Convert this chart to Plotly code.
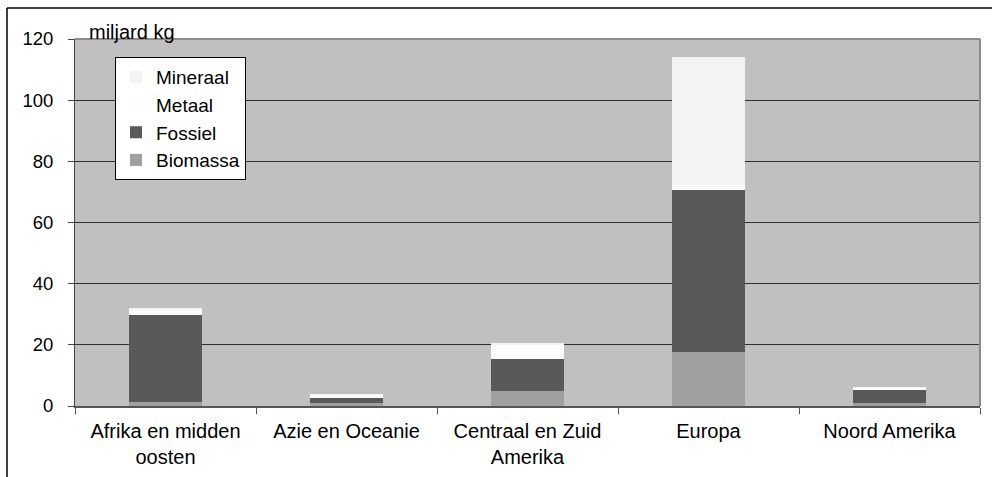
import plotly.graph_objects as go

categories = ["Afrika en midden<br>oosten", "Azie en Oceanie", "Centraal en Zuid<br>Amerika", "Europa", "Noord Amerika"]
biomassa = [1.2, 0.9, 5.0, 17.7, 1.0]
fossiel = [28.4, 1.6, 10.5, 52.9, 4.2]
metaal = [1.8, 1.2, 4.6, 1.5, 0.8]
mineraal = [0.4, 0.2, 0.2, 42.0, 0.1]
y_ticks = [0, 20, 40, 60, 80, 100, 120]

series = [
    ("Biomassa", biomassa, "#A0A0A0", 4),
    ("Fossiel", fossiel, "#595959", 3),
    ("Metaal", metaal, "#FCFCFC", 2),
    ("Mineraal", mineraal, "#F3F3F3", 1),
]

FONT = "Liberation Sans, Arial, sans-serif"

fig = go.Figure()
for name, vals, col, rank in series:
    fig.add_trace(go.Bar(
        x=categories, y=vals, name=name,
        marker=dict(color=col, line=dict(width=0)),
        legendrank=rank,
    ))

W, H = 992, 477
L, R, T, B = 75, 12, 39, 71
pw = W - L - R
ph = H - T - B

def px_x(p):
    return (p - L) / pw

def px_y(p):
    return (H - B - p) / ph

fig.update_layout(
    width=W, height=H,
    margin=dict(l=L, r=R, t=T, b=B, pad=0, autoexpand=False),
    barmode="stack",
    bargap=0.6,
    paper_bgcolor="white",
    plot_bgcolor="#C0C0C0",
    font=dict(family=FONT, size=19, color="black"),
    showlegend=True,
    legend=dict(
        x=px_x(115), y=px_y(57), xanchor="left", yanchor="top",
        bgcolor="white", bordercolor="black", borderwidth=1,
        font=dict(family=FONT, size=19, color="black"),
        traceorder="normal",
        itemwidth=30,
    ),
    xaxis=dict(
        type="category",
        automargin=False,
        showline=True, linecolor="#555555", linewidth=2,
        ticks="outside", tickson="boundaries", ticklen=6, tickcolor="#555555",
        ticklabelstandoff=6,
        tickfont=dict(family=FONT, size=20, color="black"),
        showgrid=False, zeroline=False,
    ),
    yaxis=dict(
        range=[0, 120], tickvals=y_ticks,
        automargin=False,
        showline=True, linecolor="#444444", linewidth=1,
        ticks="outside", ticklen=6, tickcolor="#444444",
        ticklabelstandoff=11,
        tickfont=dict(family=FONT, size=18.5, color="black"),
        showgrid=True, gridcolor="#303030", gridwidth=1,
        zeroline=False,
    ),
    shapes=[
        dict(type="line", xref="paper", yref="paper", x0=0, x1=1, y0=1, y1=1,
             line=dict(color="#8C8C8C", width=2), layer="above"),
        dict(type="line", xref="paper", yref="paper", x0=1, x1=1, y0=0, y1=1,
             line=dict(color="#8C8C8C", width=2), layer="above"),
        dict(type="line", xref="paper", yref="paper", x0=px_x(7), x1=px_x(995),
             y0=px_y(8), y1=px_y(8), line=dict(color="black", width=1.5)),
        dict(type="line", xref="paper", yref="paper", x0=px_x(7), x1=px_x(7),
             y0=px_y(8), y1=px_y(480), line=dict(color="black", width=1.5)),
    ],
    annotations=[
        dict(text="miljard kg", xref="paper", yref="paper",
             x=px_x(87), y=px_y(32), xanchor="left", yanchor="middle",
             showarrow=False, font=dict(family=FONT, size=20, color="black")),
    ],
)

fig.write_html("out.html", config={"displayModeBar": False})

with open("out.html", "r", encoding="utf-8") as f:
    html = f.read()
html = html.replace("<head>", "<head><style>html,body{margin:0;padding:0;overflow:hidden;}</style>", 1)
with open("out.html", "w", encoding="utf-8") as f:
    f.write(html)
